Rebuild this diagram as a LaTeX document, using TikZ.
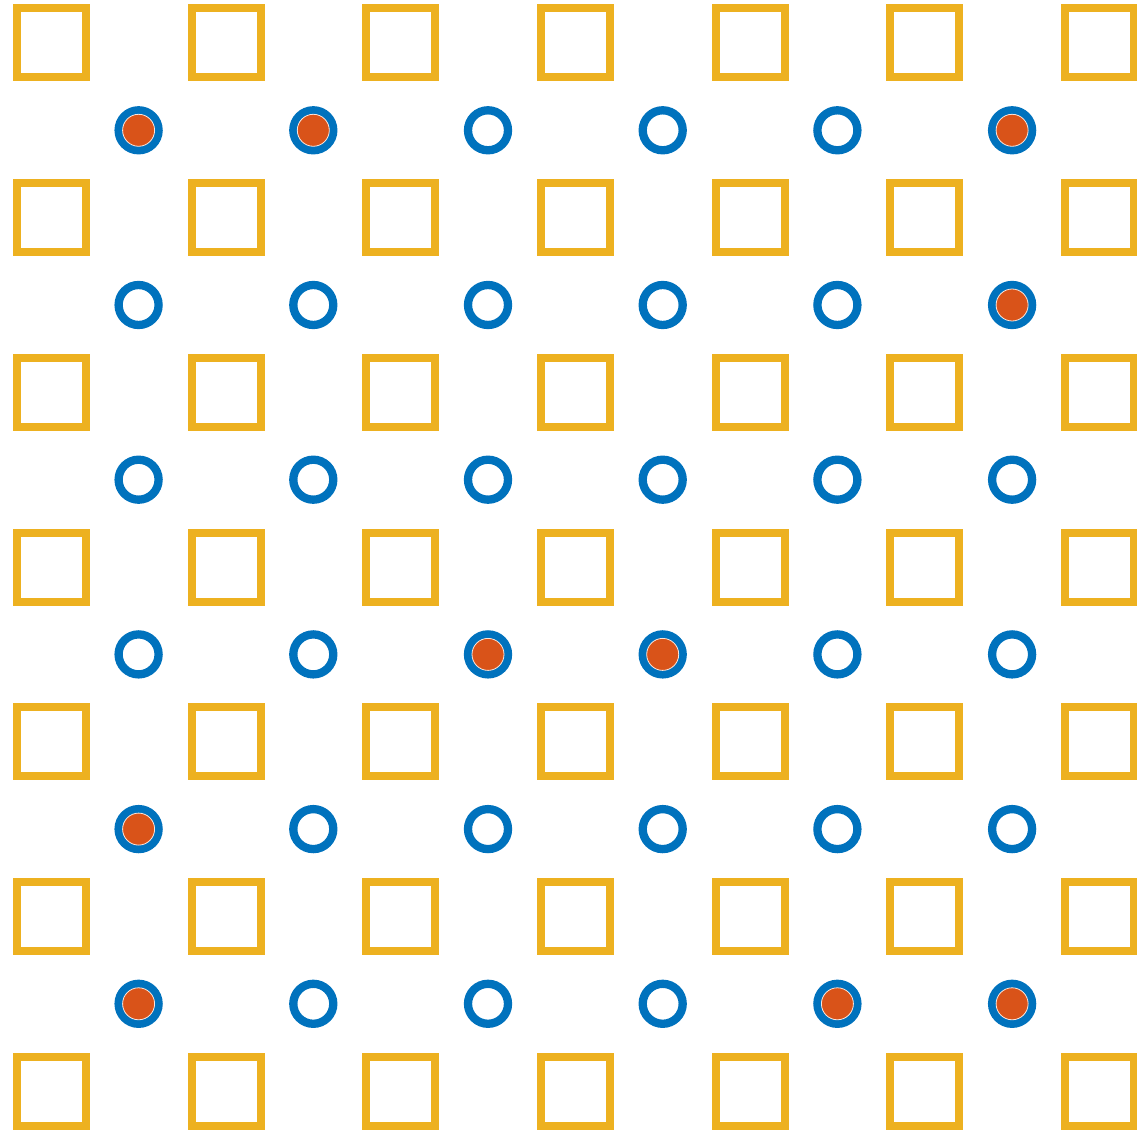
\documentclass[tikz,border=0pt]{standalone}
\definecolor{myyellow}{HTML}{EDB120}
\definecolor{myblue}{HTML}{0072BD}
\definecolor{myorange}{HTML}{D95319}
\tikzset{
  sqbox/.style={draw=myyellow, line width=8pt, minimum size=69pt, inner sep=0pt, rectangle},
  ring/.style={draw=myblue, line width=8.3pt, minimum size=40pt, inner sep=0pt, circle},
  dotfill/.style={fill=myorange, draw=white!85!myorange, line width=0.8pt, circle, minimum size=32pt, inner sep=0pt}
}
\begin{document}
\begin{tikzpicture}[x=1pt,y=1pt]
\path[use as bounding box] (0,0) rectangle (1137,1133);
\foreach \r in {0,...,6}{
  \foreach \c in {0,...,6}{
    \node[sqbox] (s-\r-\c) at ({51.3+\c*174.7},{1133-(43+\r*174.7)}) {};
  }
}
\foreach \r in {1,...,6}{
  \foreach \c in {1,...,6}{
    \node[ring] (c-\r-\c) at ({138.6+(\c-1)*174.7},{1133-(130.3+(\r-1)*174.7)}) {};
  }
}
\foreach \r/\c in {1/1,1/2,1/6,2/6,4/3,4/4,5/1,6/1,6/5,6/6}{
  \node[dotfill] (d-\r-\c) at (c-\r-\c.center) {};
}
\end{tikzpicture}
\end{document}
